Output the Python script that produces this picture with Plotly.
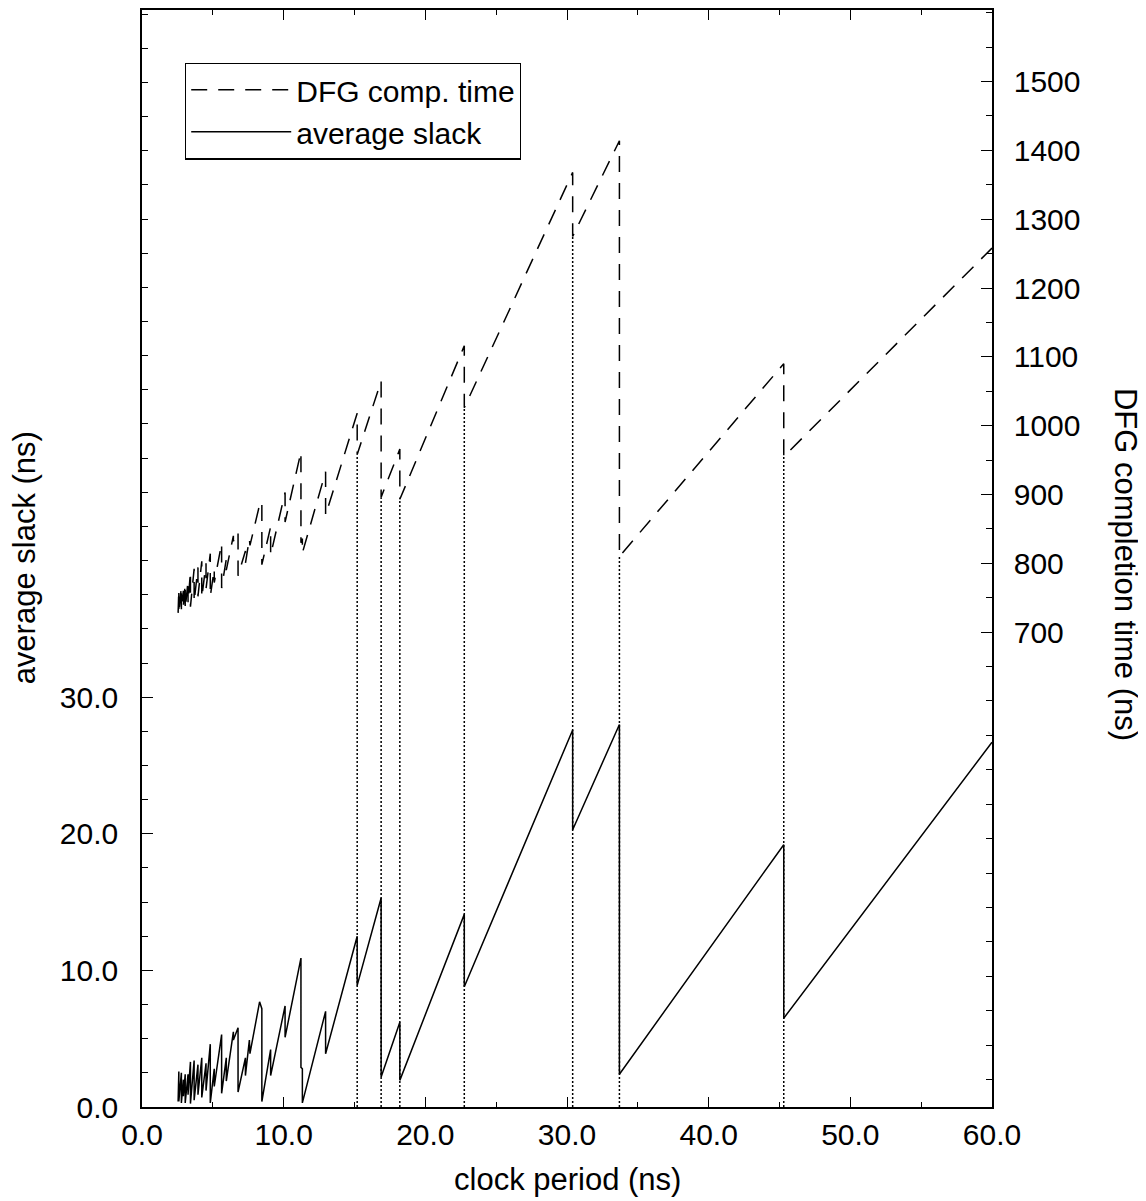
import plotly.graph_objects as go

# ---- data ----
CLOCK = [2.55, 2.60, 2.60, 2.78, 2.78, 2.92, 2.92, 3.05, 3.05, 3.25, 3.25, 3.42, 3.42,
         3.68, 3.68, 3.95, 3.95, 4.22, 4.22, 4.52, 4.52, 4.82, 4.82, 5.10, 5.10, 5.62, 5.62,
         5.95, 5.95, 6.45, 6.45, 6.78, 6.78, 7.30, 7.30, 7.58, 7.62, 8.30, 8.46, 8.46,
         9.08, 9.08, 10.10, 10.10, 11.22, 11.22, 11.32, 11.32, 12.96, 12.96, 15.19, 15.19,
         16.88, 16.88, 18.20, 18.20, 22.75, 22.75, 30.40, 30.40, 33.70, 33.70, 45.30, 45.30,
         60.00]
SLACK = [0.4, 2.6, 0.4, 2.5, 0.3, 2.0, 0.8, 2.4, 0.3, 2.4, 0.9, 3.3, 0.25,
         3.4, 0.5, 3.1, 0.9, 3.6, 0.7, 3.2, 1.2, 4.6, 0.3, 2.8, 1.5, 5.3, 1.0,
         3.6, 1.9, 5.5, 4.9, 5.8, 1.1, 3.6, 2.3, 4.9, 3.9, 7.7, 7.2, 0.4,
         4.2, 2.3, 7.4, 5.1, 10.9, 2.9, 2.8, 0.3, 7.0, 3.9, 12.5, 8.9,
         15.3, 2.2, 6.2, 1.95, 14.1, 8.8, 27.6, 20.3, 28.0, 2.4, 19.2, 6.5,
         26.7]
DFG = [728, 762, 727, 766, 731, 760, 738, 770, 733, 775, 742, 788, 737,
       792, 744, 794, 752, 803, 750, 800, 763, 814, 752, 792, 772, 829, 764,
       806, 790, 840, 832, 846, 782, 818, 800, 836, 826, 885, 890, 798,
       853, 812, 903, 860, 962, 830, 836, 815, 933, 870, 1018, 958,
       1065, 896, 966, 893, 1116, 1026, 1368, 1275, 1414, 810, 1090, 955,
       1258]

# dotted markers at the main schedule changes
DROP_X = [15.19, 16.88, 18.20, 22.75, 30.40, 33.70, 45.30]
DROP_DFG = [958, 896, 893, 1026, 1275, 810, 955]

X_TICKS = [0, 10, 20, 30, 40, 50, 60]
X_LABELS = ["0.0", "10.0", "20.0", "30.0", "40.0", "50.0", "60.0"]
Y_TICKS = [0, 10, 20, 30]
Y_LABELS = ["0.0", "10.0", "20.0", "30.0"]
Y2_TICKS = [700, 800, 900, 1000, 1100, 1200, 1300, 1400, 1500]
Y2_LABELS = [str(v) for v in Y2_TICKS]

Y_RANGE = [0, 80.3]
Y2_RANGE = [10, 1604]

FONT = "Liberation Sans, Arial, Helvetica, sans-serif"

fig = go.Figure()

for xd, yd in zip(DROP_X, DROP_DFG):
    fig.add_trace(go.Scatter(
        x=[xd, xd], y=[Y2_RANGE[0], yd], mode="lines", yaxis="y2",
        line=dict(color="black", width=1.5, dash="2px,2px"),
        showlegend=False, hoverinfo="skip"))

fig.add_trace(go.Scatter(
    x=CLOCK, y=DFG, mode="lines", name="DFG comp. time", yaxis="y2",
    line=dict(color="black", width=1.5, dash="16px,11px")))
fig.add_trace(go.Scatter(
    x=CLOCK, y=SLACK, mode="lines", name="average slack", yaxis="y",
    line=dict(color="black", width=1.5)))

axis_common = dict(
    showline=True, linecolor="black", linewidth=1.5,
    ticks="inside", tickcolor="black", tickwidth=1.3,
    showgrid=False, zeroline=False,
    tickfont=dict(family=FONT, size=30, color="black"),
)

fig.update_layout(
    width=1138, height=1193,
    margin=dict(l=134, r=154, t=0, b=94),
    plot_bgcolor="white", paper_bgcolor="white",
    font=dict(family=FONT, size=30, color="black"),
    xaxis=dict(
        range=[0, 60], tickvals=X_TICKS, ticktext=X_LABELS, ticklen=10,
        mirror="ticks", ticklabelstandoff=0,
        minor=dict(dtick=5, tick0=0, ticks="inside", ticklen=5,
                   tickcolor="black", tickwidth=1.3, showgrid=False),
        **axis_common),
    yaxis=dict(
        range=Y_RANGE, tickvals=Y_TICKS, ticktext=Y_LABELS, ticklen=11,
        ticklabelstandoff=16,
        minor=dict(dtick=2.5, tick0=0, ticks="inside", ticklen=6,
                   tickcolor="black", tickwidth=1.3, showgrid=False),
        **axis_common),
    yaxis2=dict(
        range=Y2_RANGE, overlaying="y", side="right", anchor="x",
        tickvals=Y2_TICKS, ticktext=Y2_LABELS, ticklen=11,
        ticklabelstandoff=14,
        minor=dict(dtick=50, tick0=0, ticks="inside", ticklen=6,
                   tickcolor="black", tickwidth=1.3, showgrid=False),
        **axis_common),
    legend=dict(
        x=0.0506, y=0.952, xanchor="left", yanchor="top",
        bordercolor="black", borderwidth=1.2, bgcolor="white",
        font=dict(family=FONT, size=30, color="black"),
        itemwidth=100, tracegroupgap=0),
    showlegend=True,
    annotations=[
        dict(text="clock period (ns)", xref="paper", yref="paper",
             x=0.5, y=-0.0664, xanchor="center", yanchor="middle",
             showarrow=False, font=dict(family=FONT, size=31, color="black")),
        dict(text="average slack (ns)", xref="paper", yref="paper",
             x=-0.1388, y=0.383, xanchor="center", yanchor="bottom",
             textangle=-90, showarrow=False,
             font=dict(family=FONT, size=31, color="black")),
        dict(text="DFG completion time (ns)", xref="paper", yref="paper",
             x=1.1565, y=0.495, xanchor="center", yanchor="middle",
             textangle=90, showarrow=False,
             font=dict(family=FONT, size=31, color="black")),
    ],
)

fig.write_html("out.html")
